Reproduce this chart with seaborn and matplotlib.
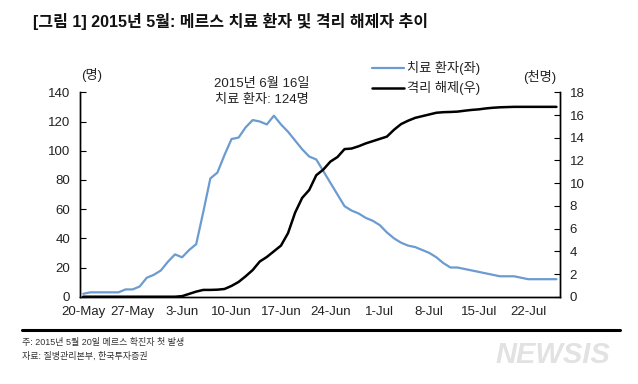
import numpy as np
import pandas as pd
import matplotlib.pyplot as plt
import seaborn as sns

# 2015-05-20 .. 2015-07-26, one value per day
treated = [2, 3, 3, 3, 3, 3, 5, 5, 7, 13, 15, 18, 24, 29, 27, 32, 36, 58, 81, 85,
           97, 108, 109, 116, 121, 120, 118, 124, 118, 113, 107, 101, 96, 94, 86, 78,
           70, 62, 59, 57, 54, 52, 49, 44, 40, 37, 35, 34, 32, 30, 27, 23, 20, 20,
           19, 18, 17, 16, 15, 14, 14, 14, 13, 12, 12, 12, 12, 12]
released = [0, 0, 0, 0, 0, 0, 0, 0, 0, 0, 0, 0, 0, 0, 0.05, 0.25, 0.45, 0.6, 0.6,
            0.62, 0.68, 0.95, 1.3, 1.8, 2.35, 3.1, 3.5, 4.0, 4.5, 5.6, 7.4, 8.7, 9.4,
            10.7, 11.2, 11.9, 12.3, 13.0, 13.05, 13.25, 13.5, 13.7, 13.9, 14.1, 14.7,
            15.2, 15.5, 15.75, 15.9, 16.05, 16.2, 16.25, 16.27, 16.3, 16.38, 16.45,
            16.5, 16.58, 16.64, 16.68, 16.7, 16.72, 16.72, 16.72, 16.72, 16.72, 16.72,
            16.72]
tick_labels = ['20-May', '27-May', '3-Jun', '10-Jun', '17-Jun', '24-Jun',
               '1-Jul', '8-Jul', '15-Jul', '22-Jul']

df = pd.DataFrame({'day': np.arange(len(treated)), 'treated': treated,
                   'released': released})

sns.set_style('white')
plt.rcParams['font.family'] = ['Liberation Sans', 'Noto Sans CJK KR', 'DejaVu Sans']

fig = plt.figure(figsize=(6.38, 3.84), dpi=100)
ax = fig.add_axes([0.1254, 0.2273, 0.7523, 0.5323])
ax2 = ax.twinx()

blue = '#6b9bd0'
sns.lineplot(data=df, x='day', y='treated', ax=ax, color=blue, lw=1.6)
sns.lineplot(data=df, x='day', y='released', ax=ax2, color='black', lw=1.8)

ax.set_xlim(-0.45, 67.5)
ax.set_ylim(0, 140)
ax2.set_ylim(0, 18)
ax.set_xticks(np.arange(len(tick_labels)) * 7)
ax.set_xticklabels(tick_labels)
ax.set_yticks(range(0, 141, 20))
ax2.set_yticks(range(0, 19, 2))
ax.set_xlabel('')
ax.set_ylabel('')
ax2.set_ylabel('')

for a in (ax, ax2):
    a.tick_params(direction='in', length=4, width=0.8, labelsize=9.5,
                  colors='black', labelcolor='#222222')
    a.spines['top'].set_visible(False)
    for s in ('left', 'right', 'bottom'):
        a.spines[s].set_color('black')
        a.spines[s].set_linewidth(1.0)
ax.tick_params(axis='x', pad=7)
ax.tick_params(axis='y', pad=7)
ax2.tick_params(axis='y', pad=7)

# legend drawn by hand at the top
fig.add_artist(plt.Line2D([372 / 638, 404 / 638], [1 - 68 / 384] * 2, color=blue, lw=1.6))
fig.add_artist(plt.Line2D([372 / 638, 404 / 638], [1 - 88 / 384] * 2, color='black', lw=1.8))
fig.text(407 / 638, 1 - 68 / 384, '치료 환자(좌)', fontsize=9.5, va='center', color='#222222')
fig.text(407 / 638, 1 - 88 / 384, '격리 해제(우)', fontsize=9.5, va='center', color='#222222')

fig.text(92 / 638, 1 - 75 / 384, '(명)', fontsize=9.5, ha='center', va='center', color='#222222')
fig.text(540 / 638, 1 - 77 / 384, '(천명)', fontsize=9.5, ha='center', va='center', color='#222222')
fig.text(262 / 638, 1 - 92 / 384, '2015년 6월 16일\n치료 환자: 124명', fontsize=9.5,
         ha='center', va='center', linespacing=1.35, color='#222222')

fig.text(33 / 638, 1 - 21 / 384, '[그림 1] 2015년 5월: 메르스 치료 환자 및 격리 해제자 추이',
         fontsize=11.5, fontweight='bold', va='center', color='#111111')

fig.add_artist(plt.Line2D([22 / 638, 620 / 638], [1 - 330 / 384] * 2, color='black', lw=2.2))
fig.text(22 / 638, 1 - 342 / 384, '주: 2015년 5월 20일 메르스 확진자 첫 발생', fontsize=6.5,
         va='center', color='#333333')
fig.text(22 / 638, 1 - 356 / 384, '자료: 질병관리본부, 한국투자증권', fontsize=6.5,
         va='center', color='#333333')
fig.text(553 / 638, 1 - 355 / 384, 'NEWSIS', fontsize=21, fontweight='bold', style='italic',
         ha='center', va='center', color='#e2e2e2')

fig.savefig('out.png', dpi=100)
